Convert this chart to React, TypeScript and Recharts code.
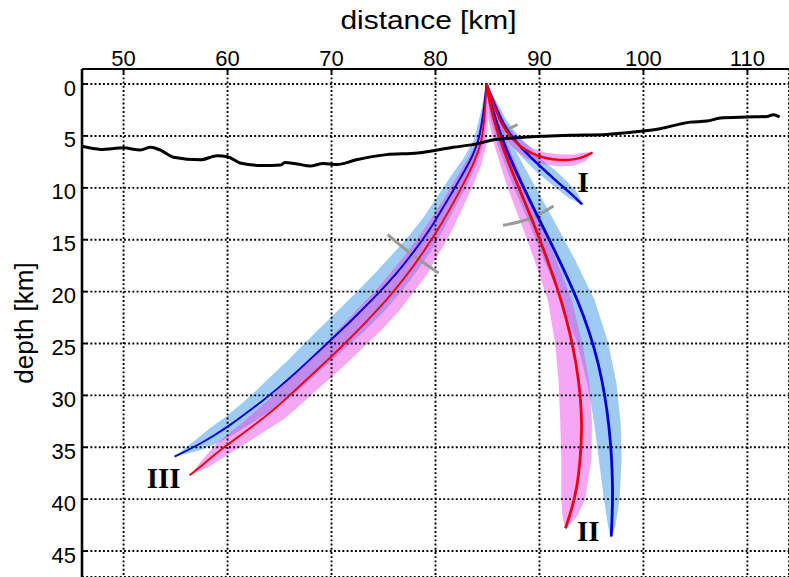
import React from "react";
import {
  ComposedChart,
  XAxis,
  YAxis,
  CartesianGrid,
  Line,
  Scatter,
  ReferenceDot,
} from "recharts";

type Pt = { x: number; d: number };
const pts = (a: number[][]): Pt[] => a.map(([x, d]) => ({ x, d }));

const X_TICKS = [50, 60, 70, 80, 90, 100, 110];
const Y_TICKS = [0, 5, 10, 15, 20, 25, 30, 35, 40, 45];

// interface profile (distance km, depth km)
const TOPO = pts([
  [46, 6.0], [47.8, 6.3], [50, 6.15], [51.6, 6.35], [52.6, 6.1], [53.5, 6.35],
  [54.8, 7.05], [57.4, 7.3], [59.0, 6.9], [60, 7.0], [61.2, 7.6], [63.3, 7.85],
  [65.1, 7.8], [65.5, 7.56], [66.7, 7.7], [67.95, 7.9], [69.2, 7.66], [70.5, 7.76],
  [72.4, 7.3], [75.3, 6.8], [78.3, 6.65], [81.7, 6.1], [84.1, 5.74], [85.6, 5.36],
  [88.2, 5.16], [90.1, 5.04], [93.0, 4.94], [96.5, 4.85], [98.4, 4.7], [100, 4.53],
  [101.6, 4.3], [104.5, 3.67], [106.1, 3.57], [107.4, 3.28], [110, 3.18],
  [111.9, 3.12], [112.5, 2.96], [113.1, 3.18],
]);

// ray paths from the source
const RAY_I_BLUE = pts([
  [84.9, 0], [85.7, 2], [86.5, 3.8], [87.3, 5.0], [88.2, 6.1], [89.2, 7.1],
  [90.2, 8.05], [91.2, 8.95], [92.2, 9.85], [93.2, 10.7], [94.1, 11.6],
]);
const RAY_I_RED = pts([
  [84.9, 0], [85.6, 2], [86.3, 3.8], [87.2, 5.1], [88.0, 5.9], [89.1, 6.65],
  [90.5, 7.15], [92.0, 7.35], [93.3, 7.3], [94.3, 7.0], [95.1, 6.6],
]);
const RAY_II_BLUE = pts([
  [84.9, 0], [85.6, 3], [86.65, 6], [88.0, 9], [89.45, 12], [90.95, 15],
  [92.4, 18], [93.75, 21], [94.85, 24], [95.7, 27], [96.3, 30], [96.7, 33],
  [96.95, 36], [97.05, 39], [97.0, 41.5], [96.9, 43.6],
]);
const RAY_II_RED = pts([
  [84.9, 0], [85.45, 3], [86.4, 6], [87.6, 9], [88.85, 12], [90.05, 15],
  [91.15, 18], [92.15, 21], [92.95, 24], [93.55, 27], [93.95, 30], [94.1, 33],
  [93.95, 36], [93.6, 39], [93.1, 41], [92.5, 42.8],
]);
const RAY_III_BLUE = pts([
  [84.9, 0], [84.6, 3], [84.15, 5.6], [83.3, 7.5], [82.15, 9.5], [80.95, 11.5],
  [79.8, 13.5], [78.4, 15.5], [76.8, 17.6], [75.4, 19.2], [73.9, 20.8],
  [72.0, 22.7], [70.1, 24.5], [68.5, 26.0], [66.7, 27.7], [64.75, 29.4],
  [63.4, 30.5], [61.87, 31.65], [60.35, 32.8], [58.65, 33.9], [56.95, 34.9],
  [54.9, 35.9],
]);
const RAY_III_RED = pts([
  [84.9, 0], [84.75, 3], [84.45, 5.6], [83.75, 7.5], [82.75, 9.5], [81.7, 11.5],
  [80.55, 13.5], [79.3, 15.5], [77.85, 17.6], [76.6, 19.2], [75.3, 20.8],
  [73.55, 22.7], [71.8, 24.5], [70.25, 26.0], [68.45, 27.7], [66.6, 29.4],
  [64.6, 31.3], [62.0, 33.3], [59.35, 35.2], [57.85, 36.5], [56.35, 37.7],
]);

// uncertainty envelopes (closed outlines)
const BAND_I_BLUE = pts([
  [84.9, 0], [85.98, 1.89], [86.89, 3.58], [87.73, 4.66], [88.64, 5.69],
  [89.66, 6.64], [90.64, 7.62], [91.63, 8.41], [92.6, 9.35], [93.54, 10.34],
  [94.3, 11.7], [92.89, 11.03], [91.83, 10.21], [90.8, 9.35], [89.8, 8.54],
  [88.78, 7.52], [87.8, 6.47], [86.9, 5.31], [86.15, 4.0], [85.42, 2.11],
]);
const BAND_I_RED = pts([
  [84.9, 0], [85.88, 1.9], [86.67, 3.65], [87.61, 4.81], [88.39, 5.51],
  [89.38, 6.22], [90.62, 6.61], [92.03, 6.8], [93.23, 6.8], [94.16, 6.62],
  [95.2, 6.55], [94.45, 7.42], [93.38, 7.84], [91.97, 7.95], [90.37, 7.74],
  [88.8, 7.22], [87.61, 6.29], [86.79, 5.39], [85.93, 3.95], [85.32, 2.1],
]);
const BAND_II_BLUE = pts([
  [84.9, 0], [85.2, 3], [85.9, 5.7], [87.5, 9.9], [88.75, 12.8], [90.4, 16.9],
  [92.1, 20.8], [93.6, 24.9], [94.6, 28.8], [95.25, 32.6], [95.7, 36.1],
  [96.2, 40.0], [96.6, 42.6], [96.9, 43.8], [97.3, 42.6], [97.7, 40.0],
  [97.9, 36.1], [97.8, 32.6], [97.4, 28.8], [96.6, 24.9], [95.3, 20.8],
  [93.4, 16.9], [91.2, 12.8], [89.6, 9.9], [87.3, 5.7], [86.1, 3],
]);
const BAND_II_RED = pts([
  [84.9, 0], [85.0, 3], [85.6, 5.7], [86.9, 9.9], [88.0, 12.8], [89.5, 16.9],
  [90.8, 20.8], [91.5, 24.9], [91.85, 28.8], [92.0, 32.6], [92.1, 36.1],
  [92.1, 40.0], [92.2, 41.5], [92.5, 42.9], [93.6, 41.7], [94.4, 40.0],
  [95.0, 36.1], [95.05, 32.6], [94.8, 28.8], [94.1, 24.9], [93.1, 20.8],
  [91.6, 16.9], [89.9, 12.8], [88.6, 9.9], [86.9, 5.7], [85.8, 3],
]);
const BAND_III_BLUE = pts([
  [84.9, 0], [84.3, 2.96], [83.67, 5.45], [82.68, 7.18], [81.37, 9.04],
  [80.09, 10.99], [78.83, 12.88], [77.35, 14.73], [75.64, 16.65], [74.25, 18.16],
  [72.75, 19.69], [70.89, 21.55], [69.04, 23.37], [67.48, 24.9], [65.76, 26.66],
  [63.92, 28.4], [62.69, 29.59], [61.27, 30.85], [59.84, 32.06], [58.23, 33.22],
  [56.72, 34.46], [54.9, 35.9], [57.18, 35.34], [59.07, 34.58], [60.89, 33.58],
  [62.53, 32.53], [64.17, 31.49], [65.65, 30.48], [67.68, 28.77], [69.52, 27.1],
  [71.16, 25.63], [73.12, 23.85], [75.05, 21.91], [76.52, 20.2], [77.88, 18.49],
  [79.45, 16.27], [80.73, 14.09], [81.81, 12.01], [82.93, 9.96], [83.92, 7.82],
  [84.63, 5.75], [84.9, 3.04],
]);
const BAND_III_RED = pts([
  [84.9, 0], [84.45, 2.98], [83.97, 5.48], [83.11, 7.21], [81.95, 9.1],
  [80.83, 11.02], [79.61, 12.93], [78.3, 14.84], [76.8, 16.83], [74.24, 19.89],
  [72.5, 21.7], [69.35, 25.06], [65.79, 28.52], [63.86, 30.49], [61.45, 32.59],
  [58.91, 34.65], [57.6, 36.19], [56.35, 37.7], [58.17, 36.89], [59.85, 35.82],
  [62.61, 34.09], [65.48, 32.26], [67.55, 30.43], [71.29, 27.08], [74.71, 23.8],
  [76.51, 21.84], [79.07, 18.49], [80.39, 16.22], [81.58, 14.12], [82.58, 11.99],
  [83.55, 9.9], [84.39, 7.79], [84.93, 5.72], [85.05, 3.02],
]);

// travel-time markers
const MARK_A = pts([[86.0, 4.9], [87.0, 4.35], [87.9, 3.9]]);
const MARK_B = pts([[86.5, 13.6], [88.0, 13.3], [89.7, 12.7], [91.35, 11.75]]);
const MARK_C = pts([[75.4, 14.5], [77.6, 16.3], [80.3, 18.2]]);

const GROUP_LABELS = [
  { text: "I", x: 94.2, d: 9.45 },
  { text: "II", x: 94.7, d: 43.0 },
  { text: "III", x: 53.85, d: 37.9 },
];

const BLUE = "#0000dc";
const RED = "#f00010";
const BLUE_FILL = "#9ecbf2";
const PINK_FILL = "rgba(235, 60, 230, 0.45)";
const GREY = "#9a9a9a";

const NoDot = () => <g />;

function TopTick({ x, y, payload }: any) {
  return (
    <g>
      <line x1={x} x2={x} y1={y + 3} y2={y + 8} stroke="#000" strokeWidth={1.8} />
      <text x={x} y={y - 0.5} textAnchor="middle" fontSize={22} fill="#000">
        {payload.value}
      </text>
    </g>
  );
}

function LeftTick({ x, y, payload }: any) {
  return (
    <g>
      <line x1={x + 6} x2={x + 11} y1={y} y2={y} stroke="#000" strokeWidth={1.8} />
      <text x={x} y={y + 11.5} textAnchor="end" fontSize={22} fill="#000">
        {payload.value}
      </text>
    </g>
  );
}

function XTitle({ viewBox }: any) {
  const cx = viewBox.x + viewBox.width / 2 - 7;
  return (
    <text
      x={cx}
      y={29}
      textAnchor="middle"
      fontSize={26}
      fill="#000"
      transform={`translate(${cx} 0) scale(1.15 1) translate(${-cx} 0)`}
    >
      distance [km]
    </text>
  );
}

function Band({ data, fill, z }: { data: Pt[]; fill: string; z: number }) {
  return (
    <Scatter
      data={data}
      shape={NoDot}
      line={{ fill, stroke: "none" }}
      lineJointType="linearClosed"
      isAnimationActive={false}
      legendType="none"
      zIndex={z}
    />
  );
}

export default function App() {
  const ray = (data: Pt[], color: string, w: number) => (
    <Line
      data={data}
      dataKey="d"
      type="basis"
      stroke={color}
      strokeWidth={w}
      dot={false}
      activeDot={false}
      isAnimationActive={false}
      legendType="none"
      zIndex={400}
    />
  );
  const mark = (data: Pt[]) => (
    <Line
      data={data}
      dataKey="d"
      type="natural"
      stroke={GREY}
      strokeWidth={3}
      dot={false}
      activeDot={false}
      isAnimationActive={false}
      legendType="none"
      zIndex={300}
    />
  );
  return (
    <div
      style={{
        position: "fixed",
        left: 0,
        top: 0,
        width: 789,
        height: 577,
        overflow: "hidden",
        background: "#fff",
        fontFamily: "'Liberation Sans', Arial, Helvetica, sans-serif",
      }}
    >
      <ComposedChart width={800} height={590} margin={{ top: 0, right: 11, bottom: 13, left: 0 }}>
        {Band({ data: BAND_III_BLUE, fill: BLUE_FILL, z: 100 })}
        {Band({ data: BAND_II_BLUE, fill: BLUE_FILL, z: 100 })}
        {Band({ data: BAND_I_BLUE, fill: BLUE_FILL, z: 100 })}
        {Band({ data: BAND_III_RED, fill: PINK_FILL, z: 110 })}
        {Band({ data: BAND_II_RED, fill: PINK_FILL, z: 110 })}
        {Band({ data: BAND_I_RED, fill: PINK_FILL, z: 110 })}
        <CartesianGrid
          stroke="#000"
          strokeWidth={1.9}
          strokeDasharray="1.9 2.3"
          zIndex={150}
        />
        <XAxis
          type="number"
          dataKey="x"
          orientation="top"
          domain={[46, 114]}
          ticks={X_TICKS}
          interval={0}
          allowDataOverflow
          height={69}
          tickSize={0}
          tickMargin={3}
          tickLine={false}
          axisLine={{ stroke: "#000", strokeWidth: 2.2 }}
          tick={TopTick}
          label={{ content: XTitle }}
        />
        <YAxis
          type="number"
          dataKey="d"
          reversed
          domain={[-1.45, 47.5]}
          ticks={Y_TICKS}
          interval={0}
          allowDataOverflow
          width={82}
          tickSize={0}
          tickMargin={6}
          tickLine={false}
          axisLine={{ stroke: "#000", strokeWidth: 2.6 }}
          tick={LeftTick}
          label={{
            value: "depth [km]",
            angle: -90,
            position: "insideLeft",
            offset: 24,
            fontSize: 26,
            fill: "#000",
            style: { textAnchor: "middle" },
          }}
        />
        {mark(MARK_A)}
        {mark(MARK_B)}
        {mark(MARK_C)}
        {ray(RAY_III_BLUE, BLUE, 1.9)}
        {ray(RAY_III_RED, RED, 1.9)}
        {ray(RAY_II_BLUE, BLUE, 2.8)}
        {ray(RAY_II_RED, RED, 2.8)}
        {ray(RAY_I_BLUE, BLUE, 2.4)}
        {ray(RAY_I_RED, RED, 2.4)}
        <Line
          data={TOPO}
          dataKey="d"
          type="monotone"
          stroke="#000"
          strokeWidth={3}
          dot={false}
          activeDot={false}
          isAnimationActive={false}
          legendType="none"
          zIndex={450}
        />
        {GROUP_LABELS.map((g) => (
          <ReferenceDot
            key={g.text}
            x={g.x}
            y={g.d}
            r={0}
            fill="none"
            stroke="none"
            label={{
              value: g.text,
              position: "center",
              fontSize: 29,
              fontWeight: "bold",
              fontFamily: "'Liberation Serif', 'DejaVu Serif', serif",
              fill: "#000",
            }}
          />
        ))}
      </ComposedChart>
    </div>
  );
}
